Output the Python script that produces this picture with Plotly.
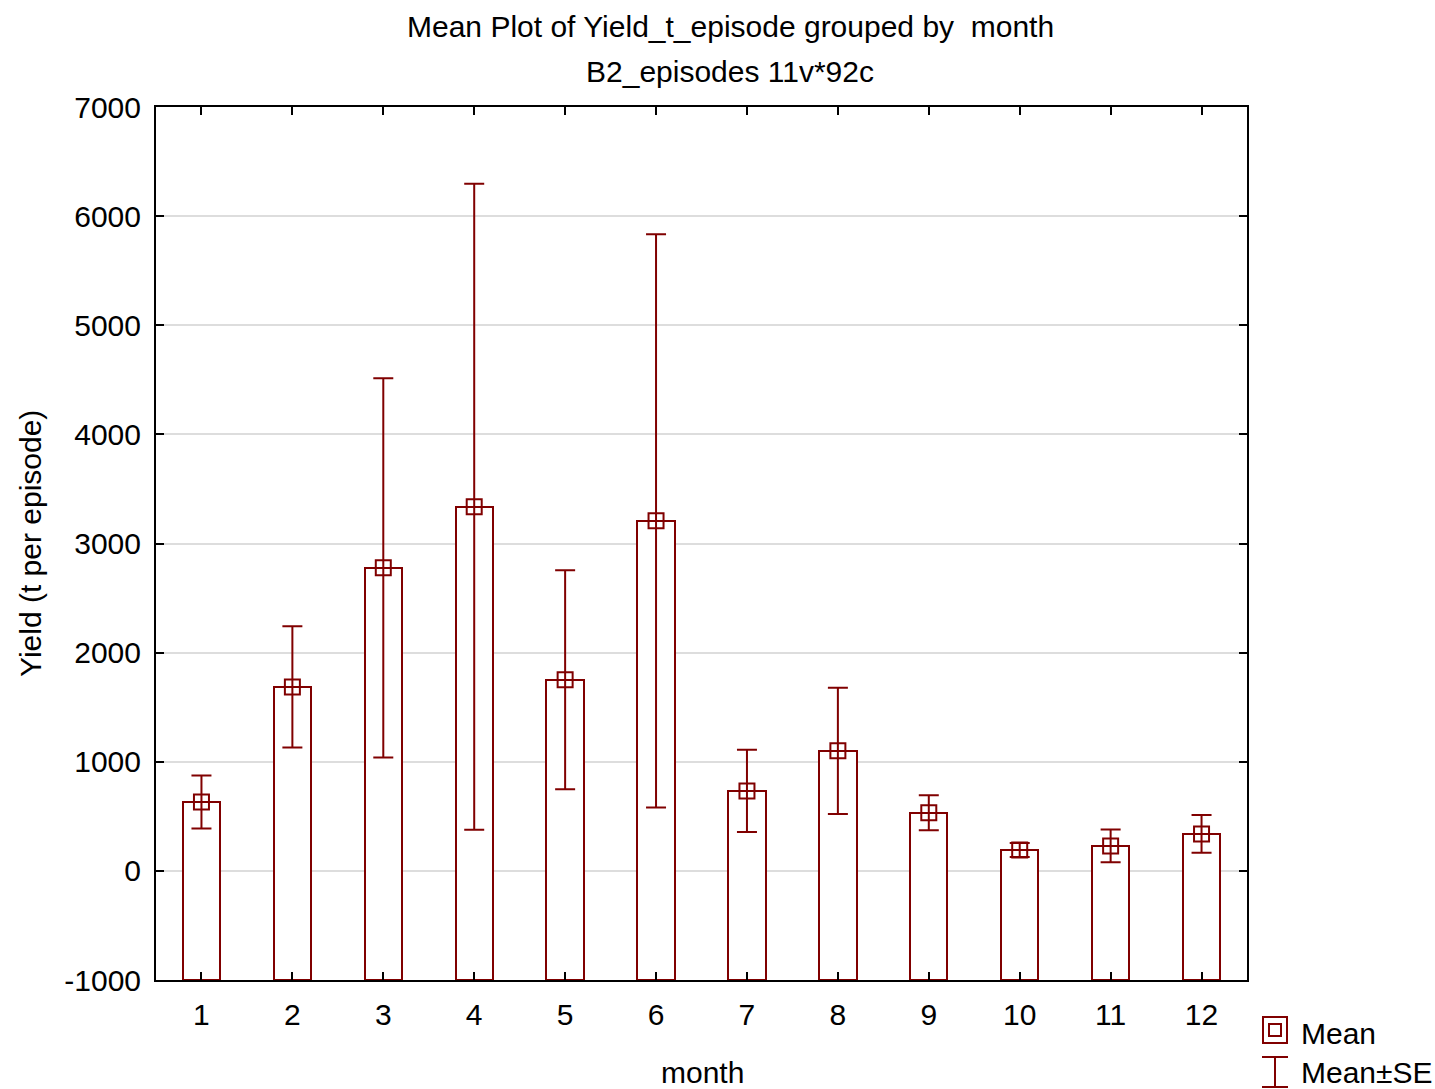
import plotly.graph_objects as go

months = [1, 2, 3, 4, 5, 6, 7, 8, 9, 10, 11, 12]
mean_yield = [632, 1686, 2777, 3336, 1751, 3208, 733, 1100, 532, 192, 229, 339]
se_yield = [243, 555, 1737, 2960, 1004, 2627, 376, 578, 160, 64, 151, 174]
y_tickvals = [-1000, 0, 1000, 2000, 3000, 4000, 5000, 6000, 7000]
y_ticktext = ["-1000", "0", "1000", "2000", "3000", "4000", "5000", "6000", "7000"]
x_ticktext = [str(m) for m in months]

RED = "#800000"
FONT = "Liberation Sans, Arial, sans-serif"
FS = 30
BASE = -1000

W, H = 1435, 1089
L, R, T, B = 156, 188, 107, 109
pw, ph = W - L - R, H - T - B


def px(x):
    return (x - L) / pw


def py(y):
    return (H - B - y) / ph


fig = go.Figure()
fig.add_trace(go.Bar(
    x=months, y=[m - BASE for m in mean_yield], base=BASE,
    width=0.41, marker=dict(color="white", line=dict(color=RED, width=2)),
    showlegend=False, hoverinfo="skip"))
fig.add_trace(go.Scatter(
    x=months, y=mean_yield, mode="markers",
    marker=dict(symbol="square-open", size=15, color=RED, line=dict(width=2, color=RED)),
    error_y=dict(type="data", array=se_yield, color=RED, thickness=2, width=10),
    showlegend=False))

shapes = []
# legend glyphs
shapes.append(dict(type="rect", xref="paper", yref="paper",
                   x0=px(1263), x1=px(1287), y0=py(1043), y1=py(1017),
                   line=dict(color=RED, width=2)))
shapes.append(dict(type="rect", xref="paper", yref="paper",
                   x0=px(1269), x1=px(1281), y0=py(1036), y1=py(1024),
                   line=dict(color=RED, width=2)))
shapes.append(dict(type="line", xref="paper", yref="paper",
                   x0=px(1275), x1=px(1275), y0=py(1087), y1=py(1057),
                   line=dict(color=RED, width=2)))
for yy in (1057, 1087):
    shapes.append(dict(type="line", xref="paper", yref="paper",
                       x0=px(1262), x1=px(1288), y0=py(yy), y1=py(yy),
                       line=dict(color=RED, width=2)))


def ann(text, x, y, xanchor="center", angle=0):
    return dict(text=text, x=px(x), y=py(y), xref="paper", yref="paper", showarrow=False,
                textangle=angle, font=dict(size=FS, color="black", family=FONT),
                xanchor=xanchor, yanchor="middle")


annotations = [
    ann("Mean Plot of Yield_t_episode grouped by  month", 730, 26),
    ann("B2_episodes 11v*92c", 730, 72),
    ann("Mean", 1299, 1033, "left"),
    ann("Mean±SE", 1299, 1072, "left"),
    ann("month", 702, 1072),
    ann("Yield (t per episode)", 30, 544, angle=-90),
]

fig.update_layout(
    width=W, height=H, margin=dict(l=L, r=R, t=T, b=B, autoexpand=False),
    paper_bgcolor="white", plot_bgcolor="white",
    font=dict(family=FONT, size=FS, color="black"),
    shapes=shapes, annotations=annotations, showlegend=False,
    bargap=0,
)
fig.update_xaxes(range=[0.5, 12.5], tickvals=months, ticktext=x_ticktext,
                 showline=True, linecolor="black", linewidth=2, mirror="ticks",
                 ticks="inside", ticklen=8, tickwidth=2, tickcolor="black",
                 showgrid=False, zeroline=False, tickfont=dict(size=FS), ticklabelstandoff=7)
fig.update_yaxes(range=[-1000, 7000], tickvals=y_tickvals, ticktext=y_ticktext,
                 showline=True, linecolor="black", linewidth=2, mirror="ticks",
                 ticks="inside", ticklen=8, tickwidth=2, tickcolor="black",
                 showgrid=True, gridcolor="#dddddd", gridwidth=2, zeroline=False,
                 tickfont=dict(size=FS), ticklabelstandoff=7)

fig.write_html("out.html")
